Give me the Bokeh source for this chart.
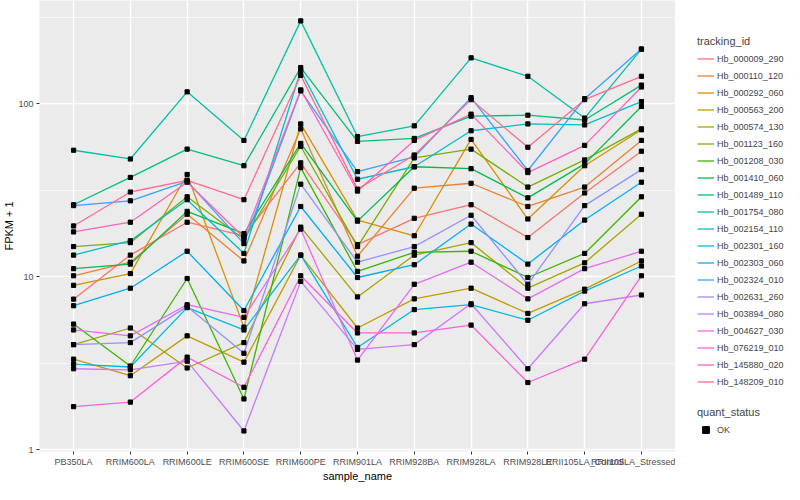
from bokeh.plotting import figure
from bokeh.layouts import row
from bokeh.models import Range1d, FixedTicker, PrintfTickFormatter, Legend, LegendItem
from bokeh.embed import file_html
from bokeh.resources import INLINE

samples = ["PB350LA", "RRIM600LA", "RRIM600LE", "RRIM600SE", "RRIM600PE", "RRIM901LA",
           "RRIM928BA", "RRIM928LA", "RRIM928LE", "RRII105LA_Control", "RRII105LA_Stressed"]

tracking_ids = ["Hb_000009_290", "Hb_000110_120", "Hb_000292_060", "Hb_000563_200", "Hb_000574_130",
                "Hb_001123_160", "Hb_001208_030", "Hb_001410_060", "Hb_001489_110", "Hb_001754_080",
                "Hb_002154_110", "Hb_002301_160", "Hb_002303_060", "Hb_002324_010", "Hb_002631_260",
                "Hb_003894_080", "Hb_004627_030", "Hb_076219_010", "Hb_145880_020", "Hb_148209_010"]

colors = ["#F8766D", "#EA8331", "#D89000", "#C09B00", "#A3A500", "#7CAE00", "#39B600", "#00BB4E",
          "#00BF7D", "#00C1A3", "#00BFC4", "#00BAE0", "#00B0F6", "#35A2FF", "#9590FF", "#C77CFF",
          "#E76BF3", "#FA62DB", "#FF62BC", "#FF6C91"]

# FPKM + 1 per sample (order of `samples`)
hb_000009_290 = [7.4, 13.3, 20.6, 17.2, 45.4, 15.3, 21.7, 26.0, 16.8, 30.4, 53.0]
hb_000110_120 = [10.1, 12.1, 22.9, 12.3, 71.4, 13.1, 32.4, 34.6, 25.4, 32.9, 61.2]
hb_000292_060 = [8.9, 10.4, 38.9, 5.1, 76.2, 21.2, 17.2, 62.0, 21.5, 43.7, 70.5]
hb_000563_200 = [3.33, 2.67, 4.54, 3.2, 13.3, 5.04, 7.43, 8.56, 6.12, 8.45, 12.3]
hb_000574_130 = [4.04, 5.04, 2.96, 4.15, 19.3, 7.62, 13.3, 15.7, 8.56, 12.0, 22.9]
hb_001123_160 = [14.9, 15.7, 28.9, 16.4, 56.6, 14.9, 48.5, 54.5, 32.9, 47.2, 71.4]
hb_001208_030 = [5.31, 3.04, 9.74, 1.96, 42.6, 10.7, 13.8, 14.0, 9.87, 13.6, 28.9]
hb_001410_060 = [11.1, 11.8, 23.8, 17.7, 58.8, 20.9, 43.1, 42.0, 28.5, 44.8, 96.2]
hb_001489_110 = [26.0, 37.4, 54.5, 43.7, 161.4, 60.4, 62.8, 84.5, 85.6, 80.3, 127.8]
hb_001754_080 = [53.7, 47.8, 116.8, 61.2, 300.3, 64.4, 74.3, 183.7, 143.7, 82.4, 206.4]
hb_002154_110 = [13.3, 16.1, 27.8, 13.6, 155.2, 36.5, 43.1, 69.6, 76.2, 75.2, 102.6]
hb_002301_160 = [3.12, 3.0, 6.61, 4.91, 13.3, 3.89, 6.44, 6.87, 5.59, 8.24, 11.5]
hb_002303_060 = [6.78, 8.56, 14.0, 6.36, 25.4, 9.87, 11.7, 20.1, 11.8, 21.2, 35.1]
hb_002324_010 = [25.7, 27.4, 35.5, 15.5, 118.3, 40.4, 49.1, 108.1, 41.0, 106.7, 206.4]
hb_002631_260 = [4.04, 4.15, 6.7, 3.6, 34.2, 12.1, 14.9, 22.6, 9.02, 25.7, 41.5]
hb_003894_080 = [2.93, 2.89, 3.24, 1.28, 9.37, 3.79, 4.04, 6.96, 2.93, 6.96, 7.82]
hb_004627_030 = [4.91, 4.54, 6.87, 5.81, 18.8, 3.29, 9.02, 12.1, 7.43, 11.1, 14.0]
hb_076219_010 = [1.77, 1.88, 3.42, 2.29, 10.1, 4.72, 4.72, 5.24, 2.44, 3.33, 10.1]
hb_145880_020 = [18.1, 20.6, 35.1, 16.8, 119.8, 31.2, 61.2, 86.8, 39.9, 57.3, 124.6]
hb_148209_010 = [19.6, 30.8, 36.0, 27.8, 145.5, 32.0, 50.4, 105.3, 55.9, 105.3, 143.7]

series = [hb_000009_290, hb_000110_120, hb_000292_060, hb_000563_200, hb_000574_130,
          hb_001123_160, hb_001208_030, hb_001410_060, hb_001489_110, hb_001754_080,
          hb_002154_110, hb_002301_160, hb_002303_060, hb_002324_010, hb_002631_260,
          hb_003894_080, hb_004627_030, hb_076219_010, hb_145880_020, hb_148209_010]

y_ticks = [1, 10, 100]
quant_status = ["OK"]

FONT = "Liberation Sans"

p = figure(width=675, height=484, y_axis_type="log",
           x_range=Range1d(-0.6, 10.6), y_range=Range1d(0.974, 394),
           output_backend="svg", toolbar_location=None,
           min_border_left=0, min_border_right=0, min_border_top=0, min_border_bottom=0)

p.background_fill_color = "#EBEBEB"
p.border_fill_color = "white"
p.outline_line_color = None

xs = list(range(len(samples)))
for vals, col in zip(series, colors):
    p.line(xs, vals, line_color=col, line_width=1.3)

all_x = [x for vals in series for x in xs]
all_y = [v for vals in series for v in vals]
p.scatter(all_x, all_y, marker="square", size=4.2, fill_color="black", line_color="black")

xt = FixedTicker(ticks=xs)
yt = FixedTicker(ticks=y_ticks, minor_ticks=[10 ** 0.5, 10 ** 1.5, 10 ** 2.5])
p.xaxis.ticker = xt
p.yaxis.ticker = yt
p.xgrid.ticker = xt
p.ygrid.ticker = yt
p.xaxis.major_label_overrides = {i: s for i, s in enumerate(samples)}
p.yaxis.formatter = PrintfTickFormatter(format="%d")

p.xgrid.grid_line_color = "white"
p.xgrid.grid_line_width = 1.4
p.ygrid.grid_line_color = "white"
p.ygrid.grid_line_width = 1.4
p.ygrid.minor_grid_line_color = "white"
p.ygrid.minor_grid_line_width = 0.7

for ax in (p.xaxis, p.yaxis):
    ax.axis_line_color = None
    ax.major_tick_line_color = "#333333"
    ax.major_tick_out = 3
    ax.major_tick_in = 0
    ax.minor_tick_line_color = None
    ax.major_label_text_font = FONT
    ax.major_label_text_font_size = "9px"
    ax.major_label_text_color = "#4D4D4D"
    ax.major_label_text_line_height = 1.0
    ax.major_label_standoff = 2
    ax.axis_label_text_font = FONT
    ax.axis_label_text_font_size = "11px"
    ax.axis_label_text_font_style = "normal"
    ax.axis_label_text_color = "black"
    ax.axis_label_text_line_height = 1.0
    ax.axis_label_standoff = 0

p.xaxis.axis_label = "sample_name"
p.yaxis.axis_label = "FPKM + 1"

# legend panel as a separate blank figure (no axes)
lf = figure(width=109, height=484, x_range=Range1d(0, 1), y_range=Range1d(0, 1),
            x_axis_location=None, y_axis_location=None,
            output_backend="svg", toolbar_location=None,
            min_border_left=0, min_border_right=0, min_border_top=0, min_border_bottom=0)
lf.grid.visible = False
lf.outline_line_color = None
lf.background_fill_color = "white"
lf.border_fill_color = "white"

# renderers placed outside the visible range: only their legend glyphs show
dummy_lines = [lf.line([5, 6], [5, 6], line_color=col, line_width=1.3) for col in colors]
dummy_pt = lf.scatter([5], [5], marker="square", size=4.2, fill_color="black", line_color="black")

def style_legend(lg):
    lg.title_text_font = FONT
    lg.title_text_font_size = "11px"
    lg.title_text_font_style = "normal"
    lg.title_standoff = 3
    lg.label_text_font = FONT
    lg.label_text_font_size = "9px"
    lg.label_standoff = 3
    lg.glyph_width = 17
    lg.glyph_height = 17
    lg.label_height = 17
    lg.spacing = 0
    lg.padding = 0
    lg.margin = 0
    lg.border_line_color = None
    lg.background_fill_alpha = 0

leg1 = Legend(items=[LegendItem(label=t, renderers=[r]) for t, r in zip(tracking_ids, dummy_lines)],
              title="tracking_id", location=(22, 61))
style_legend(leg1)
lf.add_layout(leg1)

leg2 = Legend(items=[LegendItem(label=quant_status[0], renderers=[dummy_pt])],
              title="quant_status", location=(22, 13))
style_legend(leg2)
lf.add_layout(leg2)

layout = row(p, lf)
open("out.html", "w").write(file_html(layout, INLINE))
